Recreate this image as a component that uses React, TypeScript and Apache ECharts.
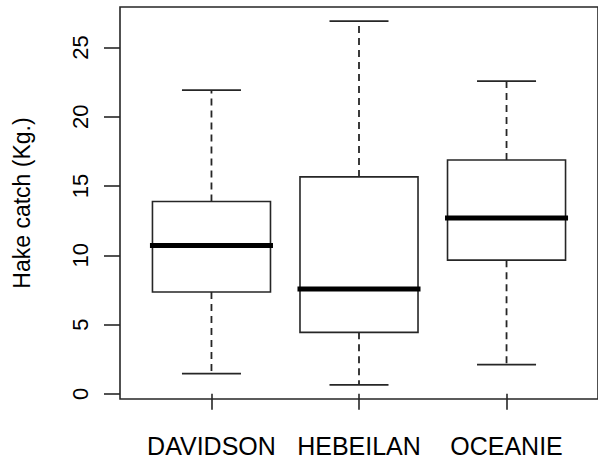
import React, { useEffect, useRef } from "react";
import * as echarts from "echarts";

// Hake catch per vessel, five-number summaries (Kg.)
const categories = ["DAVIDSON", "HEBEILAN", "OCEANIE"];
const lowWhisker = [1.46, 0.65, 2.11];
const lowerQuartile = [7.35, 4.44, 9.65];
const median = [10.71, 7.56, 12.7];
const upperQuartile = [13.88, 15.66, 16.88];
const highWhisker = [21.92, 26.9, 22.57];
const yTicks = [0, 5, 10, 15, 20, 25];
const xTicks = [1, 2, 3];

const FONT = "'Liberation Sans', Arial, sans-serif";
const INK = "#262626";

export default function App() {
  const ref = useRef<HTMLDivElement | null>(null);

  useEffect(() => {
    if (!ref.current) return;
    const chart = echarts.init(ref.current, undefined, { renderer: "svg" });

    const data = categories.map((_, i) => [
      i + 1,
      lowWhisker[i],
      lowerQuartile[i],
      median[i],
      upperQuartile[i],
      highWhisker[i],
    ]);

    const renderItem = (params: any, api: any) => {
      const x = api.value(0);
      const [cx, yLow] = api.coord([x, api.value(1)]);
      const yQ1 = api.coord([x, api.value(2)])[1];
      const yMed = api.coord([x, api.value(3)])[1];
      const yQ3 = api.coord([x, api.value(4)])[1];
      const yHigh = api.coord([x, api.value(5)])[1];
      const boxW = api.size([0.8, 0])[0];
      const capW = api.size([0.4, 0])[0];
      const dashed = { stroke: INK, lineWidth: 1.8, lineDash: [7, 5] };
      const solid = { stroke: INK, lineWidth: 1.6 };
      return {
        type: "group",
        children: [
          {
            type: "line",
            shape: { x1: cx, y1: yQ3, x2: cx, y2: yHigh },
            style: dashed,
          },
          {
            type: "line",
            shape: { x1: cx, y1: yQ1, x2: cx, y2: yLow },
            style: dashed,
          },
          {
            type: "line",
            shape: { x1: cx - capW / 2, y1: yHigh, x2: cx + capW / 2, y2: yHigh },
            style: solid,
          },
          {
            type: "line",
            shape: { x1: cx - capW / 2, y1: yLow, x2: cx + capW / 2, y2: yLow },
            style: solid,
          },
          {
            type: "rect",
            shape: { x: cx - boxW / 2, y: yQ3, width: boxW, height: yQ1 - yQ3 },
            style: { fill: "#ffffff", ...solid },
          },
          {
            type: "line",
            shape: { x1: cx - boxW / 2, y1: yMed, x2: cx + boxW / 2, y2: yMed },
            style: { stroke: "#000000", lineWidth: 5, lineCap: "square" },
          },
        ],
      };
    };

    chart.setOption({
      animation: false,
      backgroundColor: "#ffffff",
      grid: {
        left: 120,
        top: 7,
        width: 481,
        height: 392,
        show: true,
        borderColor: INK,
        borderWidth: 1.6,
        backgroundColor: "transparent",
      },
      xAxis: {
        type: "value",
        min: 0.38,
        max: 3.62,
        splitLine: { show: false },
        axisLine: { show: false },
        axisTick: {
          show: true,
          customValues: xTicks,
          length: 16,
          lineStyle: { color: INK, width: 1.6 },
        },
        axisLabel: {
          customValues: xTicks,
          formatter: (v: number) => categories[Math.round(v) - 1] ?? "",
          fontSize: 25,
          fontFamily: FONT,
          color: "#000000",
          margin: 34,
        },
      },
      yAxis: {
        type: "value",
        min: -0.37,
        max: 27.92,
        splitLine: { show: false },
        axisLine: { show: false },
        axisTick: {
          show: true,
          customValues: yTicks,
          length: 16,
          lineStyle: { color: INK, width: 1.6 },
        },
        axisLabel: {
          customValues: yTicks,
          rotate: 90,
          fontSize: 22,
          fontFamily: FONT,
          color: "#000000",
          margin: 29,
        },
        name: "Hake catch (Kg.)",
        nameLocation: "middle",
        nameRotate: 90,
        nameGap: 87,
        nameTextStyle: { fontSize: 23, fontFamily: FONT, color: "#000000" },
      },
      series: [
        {
          type: "custom",
          renderItem,
          data,
          clip: false,
        },
      ],
    });

    return () => chart.dispose();
  }, []);

  return (
    <div
      ref={ref}
      style={{ position: "absolute", left: 0, top: 0, width: 598, height: 460 }}
    />
  );
}
